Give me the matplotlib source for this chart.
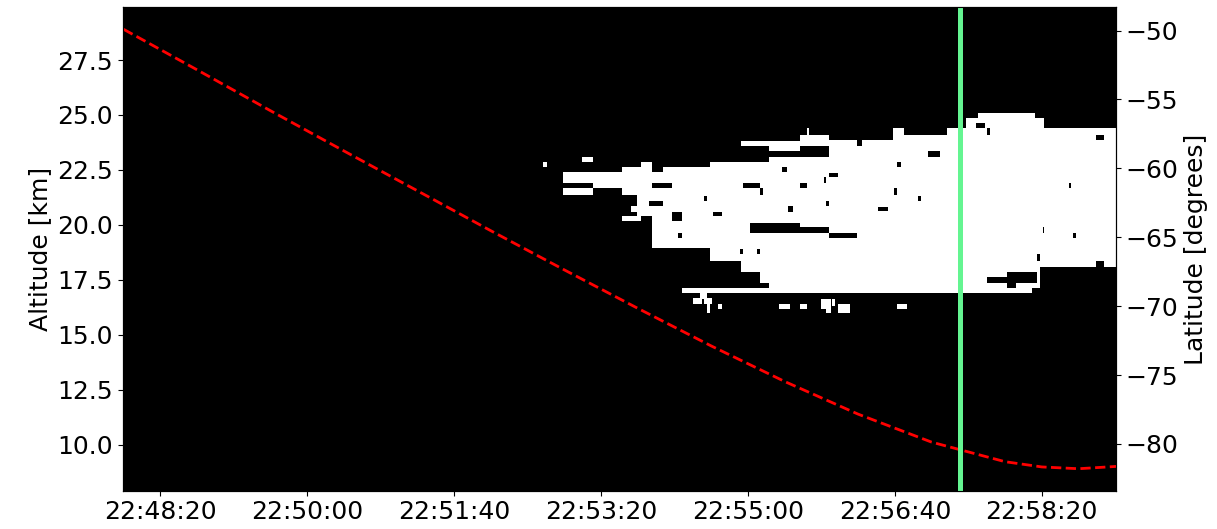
import matplotlib
matplotlib.use("Agg")
import matplotlib.pyplot as plt
import matplotlib.ticker as ticker
import numpy as np

# time axis in seconds of day (UTC), altitude in km
t_start = 82074.4
t_end = 82750.5
alt_bottom = 7.9
alt_top = 29.9

# cloud mask, filled blocks: (t0, t1, alt0, alt1)
cloud_blocks = [
    (82360, 82363, 22.63, 22.86),
    (82387, 82394, 22.86, 23.08),
    (82374, 82414, 21.90, 22.40),
    (82394, 82414, 21.67, 22.40),
    (82374, 82394, 21.35, 21.67),
    (82414, 82427, 21.35, 22.63),
    (82427, 82434, 21.10, 22.86),
    (82424, 82434, 20.37, 21.35),
    (82414, 82427, 20.15, 20.37),
    (82420, 82424, 20.60, 20.85),
    (82434, 82442, 18.94, 22.40),
    (82442, 82474, 18.94, 22.63),
    (82474, 82495, 18.33, 22.86),
    (82495, 82508, 17.86, 22.86),
    (82508, 82514, 17.36, 22.86),
    (82514, 82535, 17.12, 23.08),
    (82495, 82514, 23.58, 23.81),
    (82514, 82535, 23.33, 23.81),
    (82535, 82555, 16.89, 24.08),
    (82540, 82541, 24.08, 24.40),
    (82555, 82598, 16.89, 23.86),
    (82598, 82606, 16.89, 24.40),
    (82606, 82615, 16.89, 24.08),
    (82615, 82635, 16.89, 24.08),
    (82635, 82648, 16.89, 24.40),
    (82648, 82656, 16.89, 24.86),
    (82656, 82693, 16.89, 25.09),
    (82693, 82695, 17.12, 25.09),
    (82695, 82698, 17.12, 24.86),
    (82698, 82701, 18.07, 24.86),
    (82701, 82751, 18.07, 24.40),
    # thin layer and fragments below the main body
    (82455, 82535, 16.89, 17.12),
    (82462, 82468, 16.40, 16.66),
    (82467, 82472, 16.63, 16.89),
    (82470, 82475, 16.40, 16.66),
    (82472, 82474, 15.98, 16.40),
    (82479, 82482, 16.16, 16.40),
    (82521, 82528, 16.16, 16.40),
    (82535, 82540, 16.16, 16.40),
    (82549, 82553, 16.16, 16.62),
    (82553, 82556, 15.98, 16.62),
    (82557, 82559, 16.30, 16.62),
    (82561, 82569, 15.98, 16.40),
    (82601, 82608, 16.16, 16.40),
]

# clear gaps inside the cloud
gap_blocks = [
    (82434, 82448, 21.67, 21.90),
    (82448, 82455, 20.15, 20.60),
    (82452, 82455, 19.39, 19.62),
    (82470, 82472, 21.10, 21.31),
    (82476, 82482, 20.37, 20.60),
    (82496, 82508, 21.67, 21.90),
    (82508, 82510, 21.35, 21.67),
    (82494, 82496, 18.67, 18.90),
    (82506, 82508, 18.67, 18.90),
    (82501, 82535, 19.62, 20.10),
    (82535, 82555, 19.62, 19.91),
    (82555, 82574, 19.39, 19.62),
    (82523, 82526, 22.40, 22.63),
    (82535, 82540, 21.67, 21.90),
    (82527, 82530, 20.60, 20.85),
    (82551, 82553, 21.90, 22.15),
    (82553, 82555, 20.85, 21.10),
    (82432, 82442, 20.85, 21.10),
    (82535, 82555, 23.08, 23.56),
    (82574, 82577, 23.58, 23.86),
    (82622, 82630, 23.08, 23.33),
    (82601, 82604, 22.63, 22.86),
    (82555, 82561, 22.17, 22.35),
    (82599, 82601, 21.35, 21.67),
    (82615, 82617, 21.10, 21.31),
    (82588, 82595, 20.62, 20.81),
    (82655, 82661, 24.40, 24.63),
    (82662, 82664, 24.08, 24.40),
    (82736, 82742, 23.86, 24.08),
    (82718, 82719, 21.67, 21.90),
    (82700, 82701, 19.62, 19.91),
    (82721, 82723, 19.39, 19.62),
    (82696, 82698, 18.35, 18.67),
    (82736, 82742, 18.07, 18.33),
    (82676, 82696, 17.62, 17.84),
    (82662, 82696, 17.35, 17.62),
    (82676, 82682, 17.12, 17.35),
]

# ground track latitude
track_time = [82075, 82125, 82175, 82225, 82275, 82325, 82375, 82425,
              82475, 82525, 82575, 82625, 82675, 82700, 82725, 82751]
track_lat = [-49.91, -52.85, -55.82, -58.74, -61.63, -64.53, -67.37, -70.16,
             -72.89, -75.47, -77.84, -79.87, -81.29, -81.67, -81.80, -81.63]

marker_time = 82644

# rasterise the mask
dt = 0.5
dz = 0.02
t_edges = np.arange(t_start, t_end + dt, dt)
z_edges = np.arange(alt_bottom, alt_top + dz, dz)
T, Z = np.meshgrid(t_edges[:-1] + dt / 2, z_edges[:-1] + dz / 2)
mask = np.zeros(T.shape)
for t0, t1, z0, z1 in cloud_blocks:
    mask[(T >= t0) & (T < t1) & (Z >= z0) & (Z < z1)] = 1
for t0, t1, z0, z1 in gap_blocks:
    mask[(T >= t0) & (T < t1) & (Z >= z0) & (Z < z1)] = 0


def hms(x, pos):
    s = int(round(x))
    return "%02d:%02d:%02d" % (s // 3600, s // 60 % 60, s % 60)


plt.rcParams["font.size"] = 18

fig = plt.figure(figsize=(12.17, 5.29), dpi=100)
ax = fig.add_axes([0.1008, 0.0724, 0.8162, 0.9138])
ax.imshow(mask, cmap="gray", vmin=0, vmax=1, origin="lower", aspect="auto",
          interpolation="nearest",
          extent=[t_edges[0], t_edges[-1], z_edges[0], z_edges[-1]])
ax.set_ylabel("Altitude [km]")
ax.yaxis.set_major_locator(ticker.MultipleLocator(2.5))
ax.xaxis.set_major_locator(ticker.MultipleLocator(100))
ax.xaxis.set_major_formatter(ticker.FuncFormatter(hms))

ax2 = ax.twinx()
ax2.plot(track_time, track_lat, "r--", lw=2)
ax2.axvline(marker_time, color="#64f591", lw=3.6)
ax2.set_ylabel("Latitude [degrees]")
ax2.yaxis.set_major_locator(ticker.MultipleLocator(5))

ax.set_xlim(t_start, t_end)
ax.set_ylim(alt_bottom, alt_top)

fig.savefig("out.png", dpi=100)
